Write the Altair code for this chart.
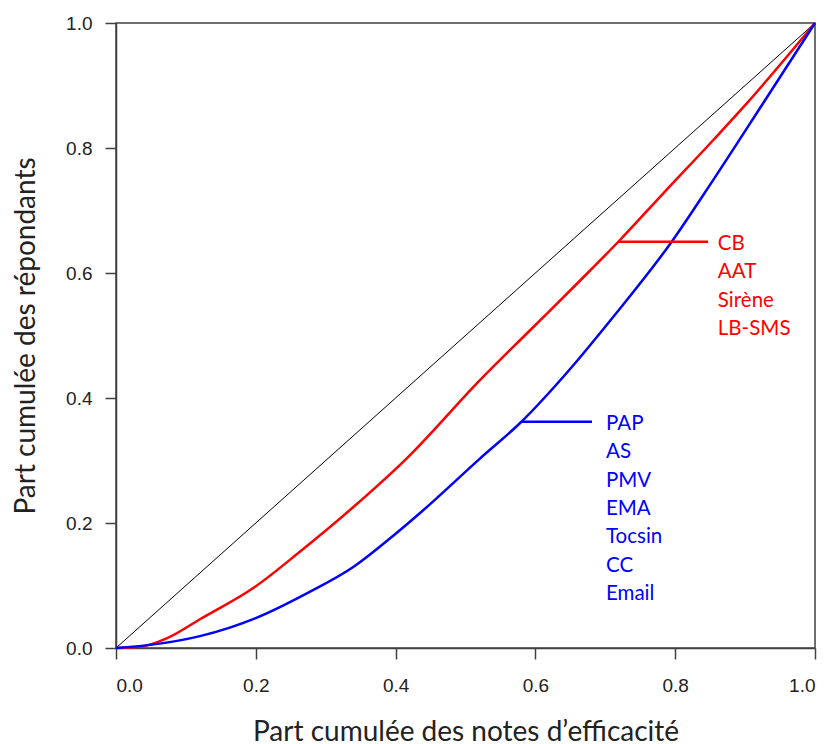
import altair as alt
import pandas as pd

# Lorenz-type curves
red_x = [0.0, 0.034, 0.0725, 0.12, 0.199, 0.263, 0.340, 0.416, 0.521, 0.592, 0.664, 0.7186, 0.783, 0.8545, 0.902, 1.0]
red_y = [0.0, 0.002, 0.0155, 0.046, 0.098, 0.154, 0.226, 0.3035, 0.429, 0.508, 0.588, 0.650, 0.7275, 0.8128, 0.871, 1.0]

blue_x = [0.0, 0.049, 0.120, 0.199, 0.273, 0.340, 0.397, 0.435, 0.521, 0.580, 0.640, 0.7115, 0.795, 0.8545, 0.926, 1.0]
blue_y = [0.0, 0.005, 0.019, 0.0475, 0.0875, 0.130, 0.180, 0.216, 0.3035, 0.362, 0.434, 0.530, 0.650, 0.749, 0.872, 1.0]

diag_x = [0.0, 1.0]
diag_y = [0.0, 1.0]

red_labels = ["CB", "AAT", "Sirène", "LB-SMS"]
blue_labels = ["PAP", "AS", "PMV", "EMA", "Tocsin", "CC", "Email"]

# leader lines (data coordinates)
red_leader = {"x": 0.7186, "x2": 0.847, "y": 0.650}
blue_leader = {"x": 0.580, "x2": 0.681, "y": 0.362}

# label block anchors
red_text_x, red_text_y0, red_step = 0.861, 0.6368, 0.0454
blue_text_x, blue_text_y0, blue_step = 0.701, 0.3488, 0.0453

tick_vals = [0.0, 0.2, 0.4, 0.6, 0.8, 1.0]

RED = "#ff0000"
BLUE = "#0000ff"
AXC = "#404040"
TXT = "#222222"
LABEL_FONT = "Lato"
TICK_FONT = "Liberation Sans"

xs = alt.Scale(domain=[0, 1], nice=False)
ys = alt.Scale(domain=[0, 1], nice=False)

x_axis = alt.Axis(
    values=tick_vals, format=".1f", title="Part cumulée des notes d’efficacité",
    grid=False, tickSize=11, labelPadding=17, labelFontSize=19, labelFont=TICK_FONT,
    labelColor=TXT, titleFont=LABEL_FONT, titleFontSize=28, titleFontWeight="normal",
    titleColor=TXT, titleBaseline="alphabetic", titleY=92,
    domainColor=AXC, tickColor=AXC, domainWidth=1.5, tickWidth=1.5,
)
y_axis = alt.Axis(
    values=tick_vals, format=".1f", title="Part cumulée des répondants",
    grid=False, tickSize=11, labelPadding=13, labelFontSize=19, labelFont=TICK_FONT,
    labelColor=TXT, titleFont=LABEL_FONT, titleFontSize=28, titleFontWeight="normal",
    titleColor=TXT, titleBaseline="alphabetic", titleX=-82, titleAngle=270,
    domainColor=AXC, tickColor=AXC, domainWidth=1.5, tickWidth=1.5,
)

diag_df = pd.DataFrame({"x": diag_x, "y": diag_y})
red_df = pd.DataFrame({"x": red_x, "y": red_y, "o": range(len(red_x))})
blue_df = pd.DataFrame({"x": blue_x, "y": blue_y, "o": range(len(blue_x))})

diag = alt.Chart(diag_df).mark_line(color="black", strokeWidth=1).encode(
    x=alt.X("x:Q", scale=xs, axis=x_axis),
    y=alt.Y("y:Q", scale=ys, axis=y_axis),
)
red = alt.Chart(red_df).mark_line(color=RED, strokeWidth=2.5, interpolate="monotone").encode(
    x=alt.X("x:Q", scale=xs), y=alt.Y("y:Q", scale=ys), order="o:Q"
)
blue = alt.Chart(blue_df).mark_line(color=BLUE, strokeWidth=2.5, interpolate="monotone").encode(
    x=alt.X("x:Q", scale=xs), y=alt.Y("y:Q", scale=ys), order="o:Q"
)

lead_df = pd.DataFrame([
    {**red_leader, "c": "r"},
    {**blue_leader, "c": "b"},
])
leaders = alt.Chart(lead_df).mark_rule(strokeWidth=2.5).encode(
    x=alt.X("x:Q", scale=xs), x2="x2:Q", y=alt.Y("y:Q", scale=ys),
    color=alt.Color("c:N", scale=alt.Scale(domain=["r", "b"], range=[RED, BLUE]), legend=None),
)

red_txt_df = pd.DataFrame({
    "t": red_labels,
    "x": [red_text_x] * len(red_labels),
    "y": [red_text_y0 - i * red_step for i in range(len(red_labels))],
})
blue_txt_df = pd.DataFrame({
    "t": blue_labels,
    "x": [blue_text_x] * len(blue_labels),
    "y": [blue_text_y0 - i * blue_step for i in range(len(blue_labels))],
})
red_txt = alt.Chart(red_txt_df).mark_text(
    align="left", baseline="alphabetic", font=LABEL_FONT, fontSize=20.5, color=RED
).encode(x=alt.X("x:Q", scale=xs), y=alt.Y("y:Q", scale=ys), text="t:N")
blue_txt = alt.Chart(blue_txt_df).mark_text(
    align="left", baseline="alphabetic", font=LABEL_FONT, fontSize=20.5, color=BLUE
).encode(x=alt.X("x:Q", scale=xs), y=alt.Y("y:Q", scale=ys), text="t:N")

chart = (
    alt.layer(diag, red, blue, leaders, red_txt, blue_txt)
    .properties(
        width=699, height=625,
        autosize=alt.AutoSizeParams(type="none"),
        padding={"left": 108, "top": 15, "right": 6, "bottom": 100},
        background="white",
    )
    .configure_view(stroke=AXC, strokeWidth=1.5)
)

chart.save("out.html", embed_options={"renderer": "svg", "actions": False})
